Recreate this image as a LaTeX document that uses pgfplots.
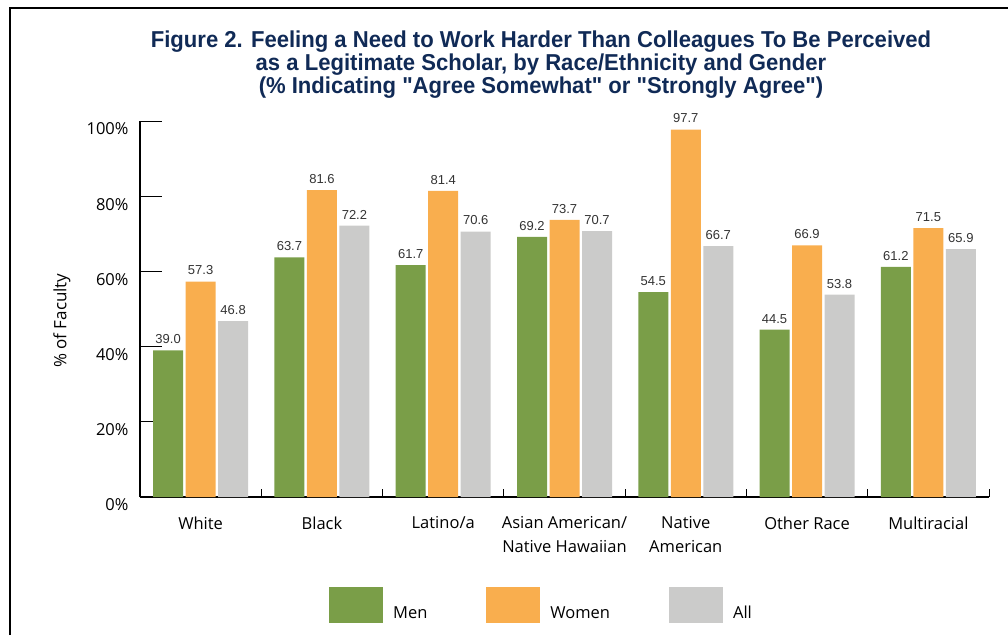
\documentclass[border=0pt]{standalone}
\usepackage{fontspec}
\setmainfont{Open Sans}
\newfontfamily\titlefont[FakeStretch=0.96]{Liberation Sans}
\newfontfamily\valfont{Liberation Sans}
\usepackage{pgfplots}
\pgfplotsset{compat=1.18}
\definecolor{cmen}{RGB}{122,158,72}
\definecolor{cwomen}{RGB}{249,174,78}
\definecolor{call}{RGB}{203,203,202}
\definecolor{navy}{RGB}{16,42,86}
\definecolor{valgray}{RGB}{51,51,51}
\begin{document}
\begin{tikzpicture}[x=1pt,y=1pt]
\useasboundingbox (0,0) rectangle (1008,-635);
\draw[line width=2.5pt] (10,-635) -- (10,-8) -- (1008,-8);
\node[font=\titlefont\bfseries\fontsize{23}{23}\selectfont, text=navy, align=center, anchor=north, inner sep=0pt] at (541,-31)
  {Figure 2. Feeling a Need to Work Harder Than Colleagues To Be Perceived\\
   as a Legitimate Scholar, by Race/Ethnicity and Gender\\
   (\% Indicating "Agree Somewhat" or "Strongly Agree")};
\begin{axis}[
  at={(140pt,-497pt)}, anchor=south west,
  scale only axis, width=849pt, height=376pt,
  xmin=-0.5, xmax=6.5, ymin=0, ymax=100,
  clip=false,
  ybar=2.5pt, bar width=30pt,
  axis x line=bottom, axis y line=left,
  axis line style={-, line width=1.2pt, black},
  /pgf/number format/assume math mode=true,
  tick align=inside,
  major tick length=22pt,
  ytick={0,20,40,60,80,100},
  yticklabels={0\%,20\%,40\%,60\%,80\%,100\%},
  ytick style={line width=1pt, black},
  yticklabel style={font=\fontsize{16.5}{18}\selectfont, xshift=-8pt, yshift=-8pt},
  xtick={0,...,6},
  xticklabels={White,Black,Latino/a,{Asian American/\\Native Hawaiian},{Native\\American},Other Race,Multiracial},
  xticklabel style={font=\fontsize{16.5}{23.5}\selectfont, align=center, yshift=-16pt},
  xtick style={draw=none},
  extra x ticks={0.5,1.5,2.5,3.5,4.5,5.5,6.5},
  extra x tick labels={},
  extra x tick style={major tick length=8pt, xtick style={draw=black, line width=1pt}},
  every axis y label/.style={at={(axis description cs:-0.0919,0.469)}, rotate=90, anchor=center, font=\fontsize{17}{18}\selectfont},
  ylabel={\% of Faculty},
  nodes near coords={\pgfmathprintnumber[fixed, fixed zerofill, precision=1]{\pgfplotspointmeta}},
  nodes near coords style={font=\valfont\fontsize{13}{13}\selectfont, text=valgray, yshift=3pt},
  legend columns=3,
  legend style={draw=none, fill=none, at={(axis description cs:0.2226,-0.2394)}, anchor=north west, inner sep=0pt,
    nodes={inner sep=0pt, font=\fontsize{16.5}{18}\selectfont},
    /tikz/every odd column/.append style={column sep=10pt},
    /tikz/every even column/.append style={column sep=59pt}},
  legend image code/.code={\fill[#1, draw=none] (0pt,-10pt) rectangle (54pt,26pt);},
]
\addplot[fill=cmen, draw=none] coordinates {(0,39.0) (1,63.7) (2,61.7) (3,69.2) (4,54.5) (5,44.5) (6,61.2)};
\addplot[fill=cwomen, draw=none] coordinates {(0,57.3) (1,81.6) (2,81.4) (3,73.7) (4,97.7) (5,66.9) (6,71.5)};
\addplot[fill=call, draw=none] coordinates {(0,46.8) (1,72.2) (2,70.6) (3,70.7) (4,66.7) (5,53.8) (6,65.9)};
\legend{Men,Women,All}
\end{axis}
\end{tikzpicture}
\end{document}
